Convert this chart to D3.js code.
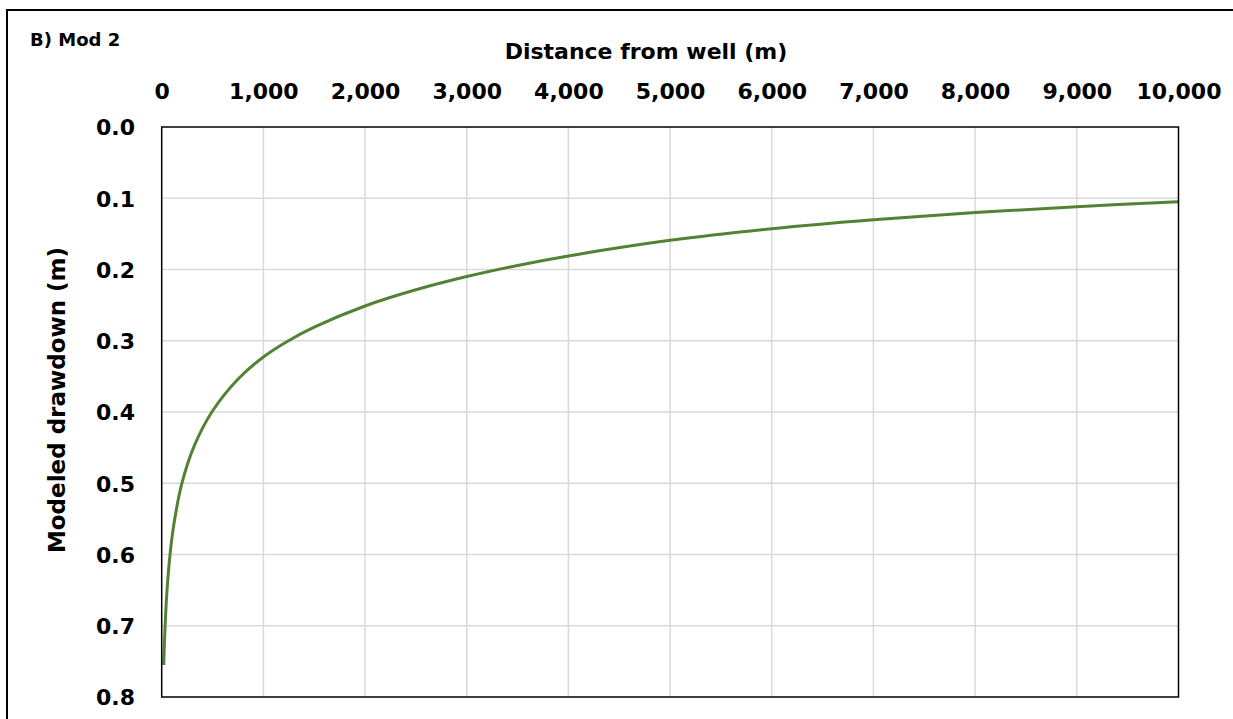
<!DOCTYPE html>
<html>
<head>
<meta charset="utf-8">
<script src="https://cdn.jsdelivr.net/npm/d3@7"></script>
<style>
  html, body { margin: 0; padding: 0; background: #fff; }
  svg text { font-family: "DejaVu Sans", sans-serif; font-weight: bold; fill: #000; }
</style>
</head>
<body>
<svg id="chart" width="1233" height="719"></svg>
<script>
// Data
const distance = [20, 30, 50, 82, 120, 197, 321, 498, 754, 1000, 1230, 1500, 2000, 2500, 3000, 3500, 4000, 5000, 6000, 7000, 8000, 9000, 10000];
const drawdown = [0.755, 0.7126, 0.6554, 0.600, 0.5573, 0.501, 0.4473, 0.399, 0.3533, 0.3228, 0.3013, 0.2809, 0.2512, 0.2285, 0.2099, 0.1943, 0.181, 0.1591, 0.1427, 0.1301, 0.1201, 0.1118, 0.1049];
const xTicks = [0, 1000, 2000, 3000, 4000, 5000, 6000, 7000, 8000, 9000, 10000];
const yTicks = [0.0, 0.1, 0.2, 0.3, 0.4, 0.5, 0.6, 0.7, 0.8];

const svg = d3.select("#chart");
const pLeft = 161.7, pRight = 1178.5, pTop = 127, pBottom = 697;

const x = d3.scaleLinear().domain([0, 10000]).range([pLeft, pRight]);
const y = d3.scaleLinear().domain([0, 0.8]).range([pTop, pBottom]);

// outer frame (extends past the right and bottom edges)
svg.append("rect").attr("x", 7).attr("y", 10).attr("width", 1240).attr("height", 740)
  .attr("fill", "none").attr("stroke", "#000").attr("stroke-width", 2);

// gridlines
svg.append("g").selectAll("line").data(xTicks.slice(1, -1)).join("line")
  .attr("x1", d => x(d)).attr("x2", d => x(d)).attr("y1", pTop).attr("y2", pBottom)
  .attr("stroke", "#d9d9d9").attr("stroke-width", 1.5);
svg.append("g").selectAll("line").data(yTicks.slice(1, -1)).join("line")
  .attr("x1", pLeft).attr("x2", pRight).attr("y1", d => y(d)).attr("y2", d => y(d))
  .attr("stroke", "#d9d9d9").attr("stroke-width", 1.5);

// top axis labels
const fmt = d3.format(",");
const xAxis = d3.axisTop(x).tickValues(xTicks).tickFormat(fmt).tickSize(0).tickPadding(0);
const gx = svg.append("g").attr("transform", `translate(0,${pTop - 36})`).call(xAxis);
gx.select(".domain").remove();
gx.selectAll("text").style("font-size", "22px").attr("dy", "0.35em").attr("y", 0);

const yAxis = d3.axisLeft(y).tickValues(yTicks).tickFormat(d3.format(".1f")).tickSize(0).tickPadding(0);
const gy = svg.append("g").attr("transform", `translate(135,0)`).call(yAxis);
gy.select(".domain").remove();
gy.selectAll("text").style("font-size", "22px").attr("dy", "0.36em").attr("x", 0);

// curve
const line = d3.line().x((d, i) => x(distance[i])).y(d => y(d)).curve(d3.curveCatmullRom.alpha(0.5));
svg.append("path").datum(drawdown).attr("d", line)
  .attr("fill", "none").attr("stroke", "#548235").attr("stroke-width", 3)
  .attr("stroke-linejoin", "round");

// plot border
svg.append("rect").attr("x", pLeft).attr("y", pTop).attr("width", pRight - pLeft).attr("height", pBottom - pTop)
  .attr("fill", "none").attr("stroke", "#000").attr("stroke-width", 1.5);

// titles
svg.append("text").attr("x", 646).attr("y", 51).attr("dy", "0.35em").attr("text-anchor", "middle")
  .style("font-size", "22px").text("Distance from well (m)");
svg.append("text").attr("transform", "translate(57,400) rotate(-90)").attr("dy", "0.35em")
  .attr("text-anchor", "middle").style("font-size", "23px").text("Modeled drawdown (m)");
svg.append("text").attr("x", 30).attr("y", 40).attr("dy", "0.35em")
  .style("font-size", "18px").text("B) Mod 2");
</script>
</body>
</html>
